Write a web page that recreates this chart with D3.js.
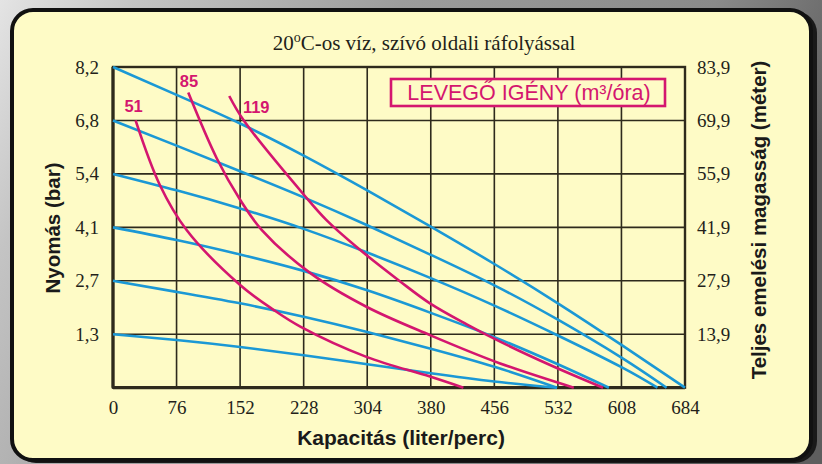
<!DOCTYPE html>
<html><head><meta charset="utf-8">
<script src="https://cdn.jsdelivr.net/npm/d3@7"></script>
<style>
html,body{margin:0;padding:0;background:#999;}
svg{display:block;}
</style></head>
<body>
<svg id="chart" width="822" height="464"></svg>
<script>
// ---------- data ----------
const flowTicks = [0, 76, 152, 228, 304, 380, 456, 532, 608, 684];
const pressureTicks = [0, 1.3, 2.7, 4.1, 5.4, 6.8, 8.2];
const pressureLabels = ["", "1,3", "2,7", "4,1", "5,4", "6,8", "8,2"];
const headLabels = ["", "13,9", "27,9", "41,9", "55,9", "69,9", "83,9"];

// pump curves at constant air supply pressure [flow l/min, head bar]
const curve82 = [[0,8.2],[76,7.47],[152,6.72],[228,5.88],[304,5.0],[380,4.12],[456,3.14],[532,2.11],[608,1.04],[684,0]];
const curve68 = [[0,6.8],[76,6.14],[152,5.47],[228,4.83],[304,4.15],[380,3.38],[456,2.58],[532,1.68],[608,0.73],[662,0]];
const curve54 = [[0,5.4],[76,5.0],[152,4.56],[228,4.06],[304,3.44],[380,2.77],[456,2.05],[532,1.27],[608,0.5],[651,0]];
const curve41 = [[0,4.1],[76,3.77],[152,3.39],[228,2.96],[304,2.45],[380,1.86],[456,1.23],[532,0.57],[593,0]];
const curve27 = [[0,2.7],[76,2.41],[152,2.11],[228,1.76],[304,1.36],[380,0.95],[456,0.51],[531,0]];
const curve13 = [[0,1.3],[76,1.16],[152,0.99],[228,0.79],[304,0.57],[380,0.35],[456,0.15],[531,0]];
const pumpCurves = [curve82, curve68, curve54, curve41, curve27, curve13];

// air consumption curves (m3/h)
const air51 = [[27,6.8],[56,5.13],[88,4.03],[152,2.59],[192,1.94],[224,1.5],[303,0.75],[379,0.27],[419,0]];
const air85 = [[90,7.53],[124,5.81],[152,4.77],[178,4.03],[236,2.9],[303,2.02],[379,1.28],[463,0.59],[551,0]];
const air119 = [[139,7.44],[156,6.81],[230,4.85],[255,4.28],[291,3.59],[343,2.69],[379,2.11],[423,1.56],[463,1.12],[524,0.54],[586,0]];
const airCurves = [air51, air85, air119];
const airLabels = ["51", "85", "119"];

// ---------- layout ----------
const W = 822, H = 464;
const plot = {left: 113, right: 685, top: 67, bottom: 387.7};
const blue = "#1b98d5", pink = "#d4166f", gridCol = "#2e2a1c", panelFill = "#fefbc6";

const svg = d3.select("#chart");
const defs = svg.append("defs");
const bg = defs.append("linearGradient").attr("id","bg").attr("x1","0").attr("y1","0").attr("x2","1").attr("y2","0.3");
bg.append("stop").attr("offset","0").attr("stop-color","#e4e4e4");
bg.append("stop").attr("offset","0.15").attr("stop-color","#c4c4c4");
bg.append("stop").attr("offset","0.45").attr("stop-color","#9c9c9c");
bg.append("stop").attr("offset","0.8").attr("stop-color","#8a8a8a");
bg.append("stop").attr("offset","1").attr("stop-color","#5e5e5e");
svg.append("rect").attr("width",W).attr("height",H).attr("fill","url(#bg)");

// panel shadow + panel
svg.append("rect").attr("x",14).attr("y",11).attr("width",803).attr("height",452)
  .attr("rx",22).attr("fill","#1a1a1a");
svg.append("rect").attr("x",12).attr("y",10).attr("width",799).attr("height",450)
  .attr("rx",21).attr("fill",panelFill).attr("stroke","#111").attr("stroke-width",4);

// scales
const x = d3.scaleLinear().domain([0, 684]).range([plot.left, plot.right]);
const yRange = pressureTicks.map((d,i) => plot.bottom - i*(plot.bottom-plot.top)/(pressureTicks.length-1));
const y = d3.scaleLinear().domain(pressureTicks).range(yRange);

// grid
const g = svg.append("g");
g.selectAll("line.v").data(flowTicks).join("line")
  .attr("x1", d=>x(d)).attr("x2", d=>x(d)).attr("y1", plot.top).attr("y2", plot.bottom)
  .attr("stroke", gridCol).attr("stroke-width", 1.6);
g.selectAll("line.h").data(pressureTicks).join("line")
  .attr("y1", d=>y(d)).attr("y2", d=>y(d)).attr("x1", plot.left).attr("x2", plot.right)
  .attr("stroke", gridCol).attr("stroke-width", 1.6);
g.append("rect").attr("x",plot.left).attr("y",plot.top)
  .attr("width",plot.right-plot.left).attr("height",plot.bottom-plot.top)
  .attr("fill","none").attr("stroke",gridCol).attr("stroke-width",2.4);
g.append("line").attr("x1",plot.left).attr("x2",plot.right).attr("y1",plot.bottom).attr("y2",plot.bottom)
  .attr("stroke",gridCol).attr("stroke-width",3.2);
g.append("line").attr("x1",plot.left).attr("x2",plot.left).attr("y1",plot.top).attr("y2",plot.bottom)
  .attr("stroke",gridCol).attr("stroke-width",3.2);

// axes (text only)
const serif = "'Liberation Serif','Times New Roman',serif";
const sans = "'Liberation Sans',Arial,sans-serif";
const xAxis = d3.axisBottom(x).tickValues(flowTicks).tickSize(0).tickPadding(13).tickFormat(d=>String(d));
const xa = svg.append("g").attr("transform",`translate(0,${plot.bottom})`).call(xAxis);
const yAxisL = d3.axisLeft(y).tickValues(pressureTicks).tickSize(0).tickPadding(14)
  .tickFormat((d,i)=>pressureLabels[i]);
const yl = svg.append("g").attr("transform",`translate(${plot.left},0)`).call(yAxisL);
const yAxisR = d3.axisRight(y).tickValues(pressureTicks).tickSize(0).tickPadding(12)
  .tickFormat((d,i)=>headLabels[i]);
const yr = svg.append("g").attr("transform",`translate(${plot.right},0)`).call(yAxisR);
[xa,yl,yr].forEach(a=>{
  a.select(".domain").remove();
  a.selectAll("text").attr("font-family",serif).attr("font-size",19).attr("fill","#231f1a");
});

// curves
const pumpLine = d3.line().x(d=>x(d[0])).y(d=>y(d[1])).curve(d3.curveNatural);
const airLine = d3.line().x(d=>x(d[0])).y(d=>y(d[1])).curve(d3.curveCatmullRom.alpha(0.5));
svg.append("g").selectAll("path").data(pumpCurves).join("path")
  .attr("d", pumpLine).attr("fill","none").attr("stroke",blue).attr("stroke-width",2.6);
svg.append("g").selectAll("path").data(airCurves).join("path")
  .attr("d", airLine).attr("fill","none").attr("stroke",pink).attr("stroke-width",2.6);

// air curve labels (placed relative to curve start)
const labOffsets = [[-2,-8.5],[0.7,-5.6],[27,16.6]];
svg.append("g").selectAll("text").data(airCurves).join("text")
  .attr("x",(d,i)=>x(d[0][0])+labOffsets[i][0]).attr("y",(d,i)=>y(d[0][1])+labOffsets[i][1])
  .attr("text-anchor","middle").attr("font-family",sans).attr("font-weight","bold")
  .attr("font-size",16.5).attr("fill",pink).text((d,i)=>airLabels[i]);

// legend box
svg.append("rect").attr("x",391).attr("y",79).attr("width",274).attr("height",27)
  .attr("fill",panelFill).attr("stroke",pink).attr("stroke-width",2.6);
svg.append("text").attr("x",529).attr("y",100).attr("text-anchor","middle")
  .attr("font-family",sans).attr("font-size",21.5).attr("fill",pink)
  .text("LEVEGŐ IGÉNY (m³/óra)");

// title
const t = svg.append("text").attr("x",424).attr("y",50).attr("text-anchor","middle")
  .attr("font-family",serif).attr("font-size",21).attr("fill","#231f1a");
t.append("tspan").text("20");
t.append("tspan").attr("font-size",14).attr("dy",-8).text("o");
t.append("tspan").attr("dy",8).text("C-os víz, szívó oldali ráfolyással");

// axis titles
svg.append("text").attr("x",401).attr("y",445).attr("text-anchor","middle")
  .attr("font-family",sans).attr("font-weight","bold").attr("font-size",21).attr("fill","#1a1a1a")
  .text("Kapacitás (liter/perc)");
svg.append("text").attr("transform","translate(60,228) rotate(-90)").attr("text-anchor","middle")
  .attr("font-family",sans).attr("font-weight","bold").attr("font-size",20.5).attr("fill","#1a1a1a")
  .text("Nyomás (bar)");
svg.append("text").attr("transform","translate(766,220) rotate(-90)").attr("text-anchor","middle")
  .attr("font-family",sans).attr("font-weight","bold").attr("font-size",20.5).attr("fill","#1a1a1a")
  .text("Teljes emelési magasság (méter)");
</script>
</body></html>
